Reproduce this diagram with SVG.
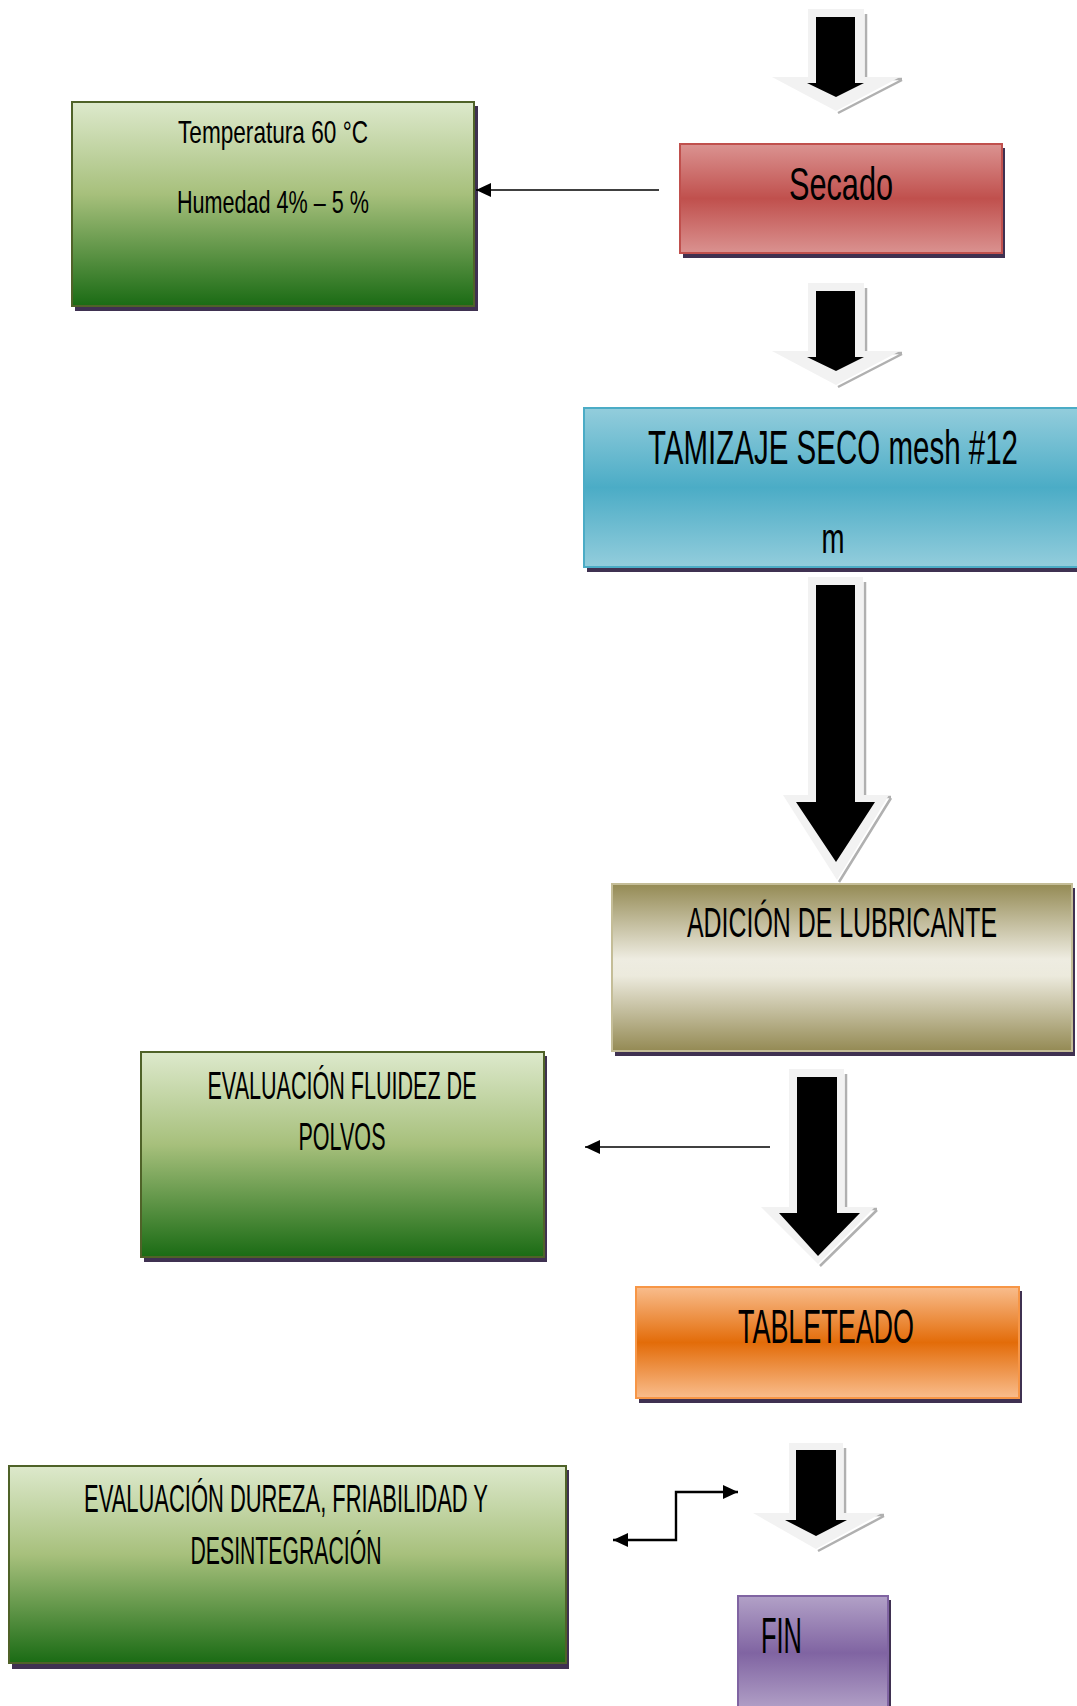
<svg xmlns="http://www.w3.org/2000/svg" width="1077" height="1706" viewBox="0 0 1077 1706">
<defs>
<linearGradient id="gGreen" x1="0" y1="0" x2="0" y2="1">
<stop offset="0" stop-color="#dde9cc"/><stop offset="0.45" stop-color="#a7c07c"/><stop offset="1" stop-color="#1a6b14"/>
</linearGradient>
<linearGradient id="gRed" x1="0" y1="0" x2="0" y2="1">
<stop offset="0" stop-color="#db9391"/><stop offset="0.5" stop-color="#c0504d"/><stop offset="1" stop-color="#da9290"/>
</linearGradient>
<linearGradient id="gBlue" x1="0" y1="0" x2="0" y2="1">
<stop offset="0" stop-color="#93cddc"/><stop offset="0.5" stop-color="#4bacc6"/><stop offset="1" stop-color="#93cddc"/>
</linearGradient>
<linearGradient id="gOlive" x1="0" y1="0" x2="0" y2="1">
<stop offset="0" stop-color="#948a54"/><stop offset="0.45" stop-color="#eeece1"/><stop offset="0.55" stop-color="#eceadd"/><stop offset="1" stop-color="#948a54"/>
</linearGradient>
<linearGradient id="gOrange" x1="0" y1="0" x2="0" y2="1">
<stop offset="0" stop-color="#f9bd8d"/><stop offset="0.5" stop-color="#e36c09"/><stop offset="1" stop-color="#f9bd8d"/>
</linearGradient>
<linearGradient id="gPurple" x1="0" y1="0" x2="0" y2="1">
<stop offset="0" stop-color="#b2a1c7"/><stop offset="0.5" stop-color="#8064a2"/><stop offset="1" stop-color="#b2a1c7"/>
</linearGradient>
<marker id="ah" markerUnits="userSpaceOnUse" markerWidth="16" markerHeight="14" refX="15" refY="7" orient="auto-start-reverse">
<path d="M0 0 L15 7 L0 14 Z" fill="#000"/>
</marker>
</defs>
<style>
.sh{fill:#3f3151}
.t{font-family:"Liberation Sans Narrow","Liberation Sans",sans-serif;fill:#000;text-anchor:middle}
.ao{fill:#f2f2f2}
.as{fill:none;stroke:#b0b0b0;stroke-width:2.5}
.ab{fill:#000}
.ln{fill:none;stroke:#000;stroke-width:1.6}
.ln2{fill:none;stroke:#000;stroke-width:2.4}
</style>

<g id="node-temperatura">
<rect class="sh" x="75" y="106" width="403" height="205"/>
<rect x="72" y="102" width="402" height="204" fill="url(#gGreen)" stroke="#4f6228" stroke-width="2"/>
<text class="t" x="273" y="143" font-size="32" textLength="190" lengthAdjust="spacingAndGlyphs">Temperatura 60 °C</text>
<text class="t" x="273" y="213" font-size="32" textLength="192" lengthAdjust="spacingAndGlyphs">Humedad 4% – 5 %</text>
</g>

<g id="node-secado">
<rect class="sh" x="683" y="148" width="322" height="110"/>
<rect x="680" y="144" width="322" height="109" fill="url(#gRed)" stroke="#c0504d" stroke-width="2"/>
<text class="t" x="841" y="200" font-size="46" textLength="104" lengthAdjust="spacingAndGlyphs">Secado</text>
</g>

<g id="node-tamizaje">
<rect class="sh" x="587" y="412" width="490" height="160"/>
<rect x="584" y="408" width="493" height="159" fill="url(#gBlue)"/>
<path d="M1077 408 H584 V567 H1077" fill="none" stroke="#4bacc6" stroke-width="2"/>
<text class="t" transform="translate(833 464) scale(1 1.44)" x="0" y="0" font-size="34" textLength="370" lengthAdjust="spacingAndGlyphs">TAMIZAJE SECO mesh #12</text>
<text class="t" x="833" y="553" font-size="42" textLength="23" lengthAdjust="spacingAndGlyphs">m</text>
</g>

<g id="node-adicion">
<rect class="sh" x="615" y="888" width="460" height="168"/>
<rect x="612" y="884" width="460" height="167" fill="url(#gOlive)" stroke="#c4bd97" stroke-width="2"/>
<text class="t" transform="translate(842 937) scale(1 1.4)" x="0" y="0" font-size="30" textLength="310" lengthAdjust="spacingAndGlyphs">ADICIÓN DE LUBRICANTE</text>
</g>

<g id="node-fluidez">
<rect class="sh" x="144" y="1056" width="403" height="206"/>
<rect x="141" y="1052" width="403" height="205" fill="url(#gGreen)" stroke="#4f6228" stroke-width="2"/>
<text class="t" x="342" y="1099" font-size="38" textLength="269" lengthAdjust="spacingAndGlyphs">EVALUACIÓN FLUIDEZ DE</text>
<text class="t" x="342" y="1150" font-size="38" textLength="87" lengthAdjust="spacingAndGlyphs">POLVOS</text>
</g>

<g id="node-tableteado">
<rect class="sh" x="639" y="1291" width="383" height="112"/>
<rect x="636" y="1287" width="383" height="111" fill="url(#gOrange)" stroke="#f79646" stroke-width="2"/>
<text class="t" x="826" y="1343" font-size="49" textLength="176" lengthAdjust="spacingAndGlyphs">TABLETEADO</text>
</g>

<g id="node-dureza">
<rect class="sh" x="12" y="1470" width="557" height="199"/>
<rect x="9" y="1466" width="557" height="197" fill="url(#gGreen)" stroke="#4f6228" stroke-width="2"/>
<text class="t" x="286" y="1512" font-size="38" textLength="404" lengthAdjust="spacingAndGlyphs">EVALUACIÓN DUREZA, FRIABILIDAD Y</text>
<text class="t" x="286" y="1564" font-size="38" textLength="191" lengthAdjust="spacingAndGlyphs">DESINTEGRACIÓN</text>
</g>

<g id="node-fin">
<rect class="sh" x="741" y="1600" width="150" height="110"/>
<rect x="738" y="1596" width="150" height="114" fill="url(#gPurple)" stroke="#8064a2" stroke-width="2"/>
<text class="t" x="761" y="1653" font-size="50" textLength="41" lengthAdjust="spacingAndGlyphs" style="text-anchor:start">FIN</text>
</g>

<g id="connectors">
<g id="arrow-1">
<path class="as" d="M866 14 V79 H902 M902 80 L838 113"/>
<path class="ao" d="M808 9 H864 V77 H900 L836 111 L772 77 H808 Z"/>
<path class="ab" d="M816 17 H855 V83 H864 L836 97 L807 83 H816 Z"/>
</g>
<g id="arrow-2">
<path class="as" d="M866 288 V353 H902 M902 354 L838 387"/>
<path class="ao" d="M808 283 H864 V351 H900 L836 385 L772 351 H808 Z"/>
<path class="ab" d="M816 291 H855 V357 H864 L836 371 L807 357 H816 Z"/>
</g>
<g id="arrow-3">
<path class="as" d="M865 582 V797 H891 M891 798 L839 882"/>
<path class="ao" d="M808 577 H863 V795 H889 L837 880 L783 795 H808 Z"/>
<path class="ab" d="M816 585 H855 V802 H875 L836 862 L796 802 H816 Z"/>
</g>
<g id="arrow-4">
<path class="as" d="M846 1074 V1209 H877 M877 1210 L820 1266"/>
<path class="ao" d="M789 1069 H844 V1207 H875 L818 1264 L761 1207 H789 Z"/>
<path class="ab" d="M797 1077 H837 V1213 H860 L818 1256 L779 1213 H797 Z"/>
</g>
<g id="arrow-5">
<path class="as" d="M845 1448 V1515 H884 M884 1516 L818 1551"/>
<path class="ao" d="M789 1443 H843 V1513 H882 L816 1549 L753 1513 H789 Z"/>
<path class="ab" d="M796 1450 H836 V1520 H847 L816 1536 L785 1520 H796 Z"/>
</g>
<path class="ln" d="M659 190 H476" marker-end="url(#ah)"/>
<path class="ln" d="M770 1147 H585" marker-end="url(#ah)"/>
<path class="ln2" d="M613 1540 H676 V1492 H738" marker-start="url(#ah)" marker-end="url(#ah)"/>
</g>
</svg>
